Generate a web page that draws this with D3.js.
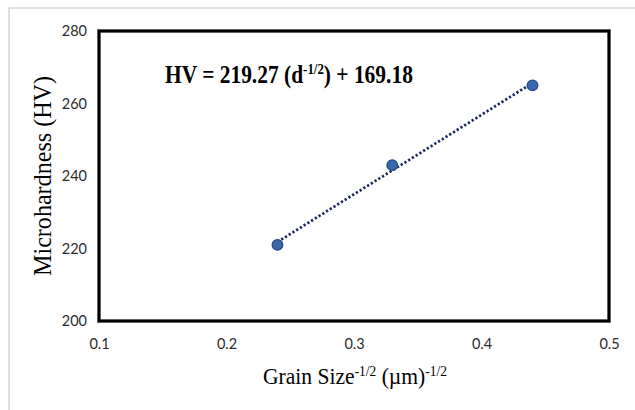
<!DOCTYPE html>
<html>
<head>
<meta charset="utf-8">
<script src="https://cdn.jsdelivr.net/npm/d3@7"></script>
<style>
  html, body { margin: 0; padding: 0; background: #fff; }
  svg { display: block; }
</style>
</head>
<body>
<svg id="chart" width="635" height="410"></svg>
<script>
// ---- data ----
const grainSize = [0.24, 0.33, 0.44];          // d^-1/2 (µm)^-1/2
const hardness  = [221, 243, 265];             // HV
const xTicks = [0.1, 0.2, 0.3, 0.4, 0.5];
const yTicks = [200, 220, 240, 260, 280];
const xTickLabels = ["0.1", "0.2", "0.3", "0.4", "0.5"];
const yTickLabels = ["200", "220", "240", "260", "280"];
const slopeText = "219.27";
const interceptText = "169.18";

// ---- layout ----
const W = 635, H = 410;
const box = { left: 99, right: 609, top: 31, bottom: 321 };
const svg = d3.select("#chart");

svg.append("rect").attr("width", W).attr("height", H).attr("fill", "#fff");
// outer light frame
svg.append("rect").attr("x", 9).attr("y", 8).attr("width", W + 20).attr("height", H + 20)
  .attr("fill", "none").attr("stroke", "#d6d6d6").attr("stroke-width", 1.5);

const x = d3.scaleLinear().domain([0.1, 0.5]).range([box.left, box.right]);
const y = d3.scaleLinear().domain([200, 280]).range([box.bottom, box.top]);

// plot box (black with grey shadow)
svg.append("rect").attr("x", box.left).attr("y", box.top)
  .attr("width", box.right - box.left).attr("height", box.bottom - box.top)
  .attr("fill", "#fff").attr("stroke", "#8a8a8a").attr("stroke-width", 4);
svg.append("rect").attr("x", box.left).attr("y", box.top)
  .attr("width", box.right - box.left).attr("height", box.bottom - box.top)
  .attr("fill", "none").attr("stroke", "#000").attr("stroke-width", 2.6);

// axes
const tickFont = "Lato, 'Liberation Sans', sans-serif";
const xAxis = d3.axisBottom(x).tickValues(xTicks).tickSize(0).tickPadding(18)
  .tickFormat((d, i) => xTickLabels[i]);
const yAxis = d3.axisLeft(y).tickValues(yTicks).tickSize(0).tickPadding(12)
  .tickFormat((d, i) => yTickLabels[i]);

const gx = svg.append("g").attr("transform", `translate(0,${box.bottom})`).call(xAxis);
const gy = svg.append("g").attr("transform", `translate(${box.left},0)`).call(yAxis);
[gx, gy].forEach(g => {
  g.select(".domain").remove();
  g.selectAll("text").attr("font-family", tickFont).attr("font-size", 14.5).attr("fill", "#2b2b2b");
});

// trendline (least-squares fit of the data)
const mx = d3.mean(grainSize), my = d3.mean(hardness);
const sxy = d3.sum(grainSize.map((v, i) => (v - mx) * (hardness[i] - my)));
const sxx = d3.sum(grainSize.map(v => (v - mx) * (v - mx)));
const slope = sxy / sxx, intercept = my - slope * mx;
const xExt = d3.extent(grainSize);
const trend = xExt.map(v => [v, slope * v + intercept]);

svg.append("path")
  .datum(trend)
  .attr("d", d3.line().x(d => x(d[0])).y(d => y(d[1])))
  .attr("fill", "none").attr("stroke", "#1c2a5e").attr("stroke-width", 2.7)
  .attr("stroke-dasharray", "2.3,2.1");

// points
svg.append("g").selectAll("circle")
  .data(grainSize.map((v, i) => [v, hardness[i]]))
  .join("circle")
  .attr("cx", d => x(d[0])).attr("cy", d => y(d[1])).attr("r", 5.3)
  .attr("fill", "#3a68ad").attr("stroke", "#274b85").attr("stroke-width", 1.3);

// helper: squeeze text horizontally to a target width
function fitWidth(textSel, target, ax, ay) {
  const len = textSel.node().getComputedTextLength();
  const s = target / len;
  textSel.attr("transform", `translate(${ax},${ay}) scale(${s},1) translate(${-ax},${-ay})`);
}

const serif = "'Liberation Serif', 'Times New Roman', serif";

// equation
const eq = svg.append("text").attr("x", 165).attr("y", 83)
  .attr("font-family", serif).attr("font-weight", "bold").attr("font-size", 25).attr("fill", "#000");
eq.append("tspan").text(`HV = ${slopeText} (d`);
eq.append("tspan").attr("dy", -9).attr("font-size", 15).text("-1/2");
eq.append("tspan").attr("dy", 9).text(`) + ${interceptText}`);
fitWidth(eq, 248, 165, 83);

// x-axis title
const xt = svg.append("text").attr("x", 263).attr("y", 384)
  .attr("font-family", serif).attr("font-size", 22.5).attr("fill", "#000");
xt.append("tspan").text("Grain Size");
xt.append("tspan").attr("dy", -8).attr("font-size", 14).text("-1/2");
xt.append("tspan").attr("dy", 8).text(" (µm)");
xt.append("tspan").attr("dy", -8).attr("font-size", 14).text("-1/2");
fitWidth(xt, 184, 263, 384);

// y-axis title
const yg = svg.append("g").attr("transform", "translate(51,176) rotate(-90)");
const yt = yg.append("text").attr("x", 0).attr("y", 0).attr("text-anchor", "middle")
  .attr("font-family", serif).attr("font-size", 24.5).attr("fill", "#000")
  .text("Microhardness (HV)");
fitWidth(yt, 200, 0, 0);
</script>
</body>
</html>
